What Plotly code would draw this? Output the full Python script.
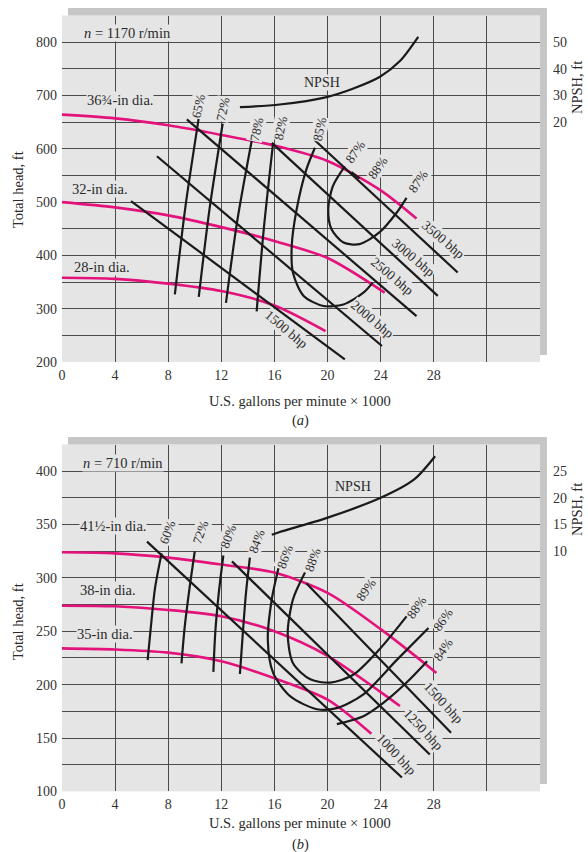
import plotly.graph_objects as go

# ---------------- (a) n = 1170 r/min ----------------
# impeller head curves (gpm x 1000, ft)
a_d1_q = [0, 4, 8, 12, 16, 20, 24, 26.7]
a_d1_h = [664, 657, 644, 626, 606, 577, 522, 469]
a_d2_q = [0, 4, 8, 12, 16, 20, 24.3]
a_d2_h = [500, 490, 475, 453, 427, 395, 330]
a_d3_q = [0, 4, 8, 12, 16, 19.85]
a_d3_h = [358, 356, 347, 333, 306, 258]
a_dia_text = ["36¾-in dia.", "32-in dia.", "28-in dia."]

# brake horsepower lines
a_bhp_names = ["1500 bhp", "2000 bhp", "2500 bhp", "3000 bhp", "3500 bhp"]
a_bhp_q = [[5.2, 21.3], [7.15, 24.1], [9.4, 26.7], [15.8, 28.3], [19.0, 29.8]]
a_bhp_h = [[502, 205], [586, 230], [655, 286], [611, 324], [617, 368]]

# efficiency contours
a_e65_q = [10.3, 9.3, 8.5]
a_e65_h = [658, 492, 327]
a_e72_q = [12.1, 11.1, 10.3]
a_e72_h = [647, 485, 322]
a_e78_q = [14.3, 13.2, 12.35]
a_e78_h = [617, 465, 311]
a_e82_q = [15.9, 15.2, 14.66]
a_e82_h = [611, 450, 295]
a_e85_q = [19.05, 18.4, 17.67, 17.3, 17.4, 18.2, 19.7, 21.2, 22.7, 23.4]
a_e85_h = [602, 561, 486, 417, 367, 324, 305, 308, 330, 349]
a_e87_q = [21.3, 20.4, 20.05, 20.3, 21.2, 22.4, 23.9, 25.2, 25.95]
a_e87_h = [567, 530, 486, 449, 424, 421, 443, 480, 508]
a_e88_q = [21.8, 22.4]
a_e88_h = [556, 544]

# NPSH curve (right axis)
a_npsh_q = [13.4, 16.4, 19.93, 21.9, 23.95, 25.45, 26.83]
a_npsh = [25.6, 26.6, 29.4, 32.5, 37, 42.9, 52]

# ---------------- (b) n = 710 r/min ----------------
b_d1_q = [0, 4, 8, 12, 16, 20, 24, 28.2]
b_d1_h = [324, 323, 319, 312.5, 305, 286, 252, 211]
b_d2_q = [0, 4, 8, 12, 16, 20, 24, 25.45]
b_d2_h = [274, 273.4, 270, 264, 250, 227, 193, 180]
b_d3_q = [0, 4, 8, 12, 16, 20, 23.3]
b_d3_h = [234, 233, 230, 222, 206, 186, 154]
b_dia_text = ["41½-in dia.", "38-in dia.", "35-in dia."]

b_bhp_names = ["1000 bhp", "1250 bhp", "1500 bhp"]
b_bhp_q = [[6.4, 25.6], [12.8, 27.7], [18.4, 29.3]]
b_bhp_h = [[334, 113], [315.5, 134.6], [295, 155]]

b_e60_q = [7.5, 7.0, 6.7, 6.45]
b_e60_h = [323, 290, 255, 223]
b_e72_q = [10.0, 9.6, 9.25, 9.0]
b_e72_h = [325, 290, 255, 220]
b_e80_q = [12.15, 11.8, 11.55, 11.4]
b_e80_h = [321, 285, 250, 212]
b_e84_q = [14.15, 13.85, 13.6, 13.4]
b_e84_h = [319, 285, 245, 210]
b_e86_q = [16.3, 15.8, 15.5, 15.9, 17.2, 19.2, 20.7, 22.7, 25.2, 27.6]
b_e86_h = [309, 280, 242, 211, 189, 177, 178, 191, 223, 253]
b_e88_q = [18.3, 17.4, 17.0, 17.4, 18.7, 20.2, 21.9, 23.9, 25.95]
b_e88_h = [305, 280, 248, 220, 205, 202, 209, 233, 264]
b_e84r_q = [20.7, 22.7, 24.2, 25.95, 27.5]
b_e84r_h = [163, 170.5, 183, 202, 222]

b_npsh_q = [15.8, 16.4, 19.9, 24, 26.5, 28.1]
b_npsh = [13.1, 13.6, 16.2, 20, 23.4, 27.8]

# tick labels
x_ticks = [0, 4, 8, 12, 16, 20, 24, 28]
a_head_ticks = [200, 300, 400, 500, 600, 700, 800]
a_npsh_ticks = [20, 30, 40, 50]
b_head_ticks = [100, 150, 200, 250, 300, 350, 400]
b_npsh_ticks = [10, 15, 20, 25]

# ---------------- styling ----------------
W, H = 588, 852
FONT = "Liberation Serif"
BG = "#e5e5e5"
SHADOW = "#c6c6c6"
GRID = "#4a4a4a"
PINK = "#e4137c"
INK = "#1a1a1a"
TXT = "#2a2a2a"

fig = go.Figure()


def line(q, h, xa, ya, color=INK, width=2.2):
    fig.add_trace(go.Scatter(x=q, y=h, mode="lines", xaxis=xa, yaxis=ya,
                             line=dict(color=color, width=width, shape="spline", smoothing=0.8),
                             hoverinfo="skip", showlegend=False))


# (a)
for q, h in [(a_d1_q, a_d1_h), (a_d2_q, a_d2_h), (a_d3_q, a_d3_h)]:
    line(q, h, "x", "y", PINK, 2.6)
for q, h in zip(a_bhp_q, a_bhp_h):
    line(q, h, "x", "y")
for q, h in [(a_e65_q, a_e65_h), (a_e72_q, a_e72_h), (a_e78_q, a_e78_h), (a_e82_q, a_e82_h),
             (a_e85_q, a_e85_h), (a_e87_q, a_e87_h), (a_e88_q, a_e88_h)]:
    line(q, h, "x", "y")
line(a_npsh_q, a_npsh, "x", "y2")

# (b)
for q, h in [(b_d1_q, b_d1_h), (b_d2_q, b_d2_h), (b_d3_q, b_d3_h)]:
    line(q, h, "x2", "y3", PINK, 2.6)
for q, h in zip(b_bhp_q, b_bhp_h):
    line(q, h, "x2", "y3")
for q, h in [(b_e60_q, b_e60_h), (b_e72_q, b_e72_h), (b_e80_q, b_e80_h), (b_e84_q, b_e84_h),
             (b_e86_q, b_e86_h), (b_e88_q, b_e88_h), (b_e84r_q, b_e84r_h)]:
    line(q, h, "x2", "y3")
line(b_npsh_q, b_npsh, "x2", "y4")

# ---------------- axes ----------------
xdom = [62 / W, 540 / W]
a_dom = [1 - 362 / H, 1 - 15.5 / H]
b_dom = [1 - 791.4 / H, 1 - 444.5 / H]
tickfont = dict(family=FONT, size=14, color="#333")


def xaxis(anchor):
    return dict(domain=xdom, range=[0, 36], anchor=anchor, tickvals=x_ticks, automargin=False,
                showgrid=False, zeroline=False, showline=False, ticks="",
                tickfont=tickfont, ticklabelstandoff=3,
                minor=dict(tickvals=[4, 8, 12, 16, 20, 24, 28, 32], showgrid=True,
                           gridcolor=GRID, gridwidth=1.1))


def head_axis(dom, rng, ticks, anchor, minor_vals):
    return dict(domain=dom, range=rng, anchor=anchor, tickvals=ticks, automargin=False,
                showgrid=False, zeroline=False, ticks="", tickfont=tickfont, ticklabelstandoff=4,
                minor=dict(tickvals=minor_vals, showgrid=True, gridcolor=GRID, gridwidth=1.1))


def npsh_axis(over, anchor, rng, ticks):
    return dict(overlaying=over, side="right", anchor=anchor, range=rng, tickvals=ticks,
                automargin=False, showgrid=False, zeroline=False, ticks="",
                tickfont=tickfont, ticklabelstandoff=12)


fig.update_layout(
    template="none",
    xaxis=xaxis("y"),
    xaxis2=xaxis("y3"),
    yaxis=head_axis(a_dom, [200, 850], a_head_ticks, "x", list(range(250, 801, 50))),
    yaxis2=npsh_axis("y", "x", [-70, 60], a_npsh_ticks),
    yaxis3=head_axis(b_dom, [100, 425], b_head_ticks, "x2", list(range(125, 401, 25))),
    yaxis4=npsh_axis("y3", "x2", [-35, 30], b_npsh_ticks),
    width=W, height=H, margin=dict(l=0, r=0, t=0, b=0, pad=0), autosize=False,
    paper_bgcolor="white", plot_bgcolor=BG, showlegend=False,
    font=dict(family=FONT, color="#333"),
)

# drop-shadow strips along the top and right of each panel
shapes = []
for top, bottom in [(8, 355), (437, 784)]:
    shapes.append(dict(type="rect", xref="paper", yref="paper", layer="below",
                       x0=68 / W, x1=547 / W, y0=1 - (top + 7.5) / H, y1=1 - top / H,
                       fillcolor=SHADOW, line=dict(width=0)))
    shapes.append(dict(type="rect", xref="paper", yref="paper", layer="below",
                       x0=540 / W, x1=547 / W, y0=1 - bottom / H, y1=1 - top / H,
                       fillcolor=SHADOW, line=dict(width=0)))
fig.update_layout(shapes=shapes)

ann = []


def label(text, x, y, xr, yr, angle=0, size=12.5, bg=BG):
    ann.append(dict(text=text, x=x, y=y, xref=xr, yref=yr, showarrow=False, textangle=angle,
                    xanchor="center", yanchor="middle",
                    font=dict(family=FONT, size=size, color=TXT), bgcolor=bg, borderpad=0))


# (a) labels
label("<i>n</i> = 1170 r/min", 4.97, 818, "x", "y", size=14.5)
label(a_dia_text[0], 4.37, 691, "x", "y", size=14.5)
label(a_dia_text[1], 2.86, 524, "x", "y", size=14.5)
label(a_dia_text[2], 3.0, 379, "x", "y", size=14.5)
label("NPSH", 19.56, 724, "x", "y", size=14)
for t, x, y in [("65%", 10.24, 680), ("72%", 12.1, 674), ("78%", 14.66, 636),
                ("82%", 16.5, 639), ("85%", 19.4, 636)]:
    label(t, x, y, "x", "y", angle=-78, size=13)
for t, x, y in [("87%", 22.1, 595), ("88%", 23.8, 564), ("87%", 26.8, 539)]:
    label(t, x, y, "x", "y", angle=-55, size=13)
for t, x, y in zip(a_bhp_names, [16.9, 23.4, 24.9, 26.45, 28.7], [261, 280, 361, 396, 430]):
    label(t, x, y, "x", "y", angle=40, size=13.5)

# (b) labels
label("<i>n</i> = 710 r/min", 4.6, 408, "x2", "y3", size=14.5)
label(b_dia_text[0], 3.84, 349, "x2", "y3", size=14.5)
label(b_dia_text[1], 3.46, 289, "x2", "y3", size=14.5)
label(b_dia_text[2], 3.24, 247, "x2", "y3", size=14.5)
label("NPSH", 21.9, 386, "x2", "y3", size=14)
for t, x, y in [("60%", 7.9, 343), ("72%", 10.4, 343), ("80%", 12.5, 339), ("84%", 14.66, 334),
                ("86%", 16.8, 320), ("88%", 18.9, 317)]:
    label(t, x, y, "x2", "y3", angle=-70, size=13)
for t, x, y in [("89%", 22.9, 289), ("88%", 26.7, 272), ("86%", 28.7, 261), ("84%", 28.7, 233)]:
    label(t, x, y, "x2", "y3", angle=-55, size=13)
for t, x, y in zip(b_bhp_names, [25.2, 27.2, 28.7], [134.6, 158, 183]):
    label(t, x, y, "x2", "y3", angle=47, size=13.5)

# axis titles (positioned in page pixels)
for txt, px, py, ang in [("Total head, ft", 18, 190, -90), ("NPSH, ft", 577, 88, -90),
                         ("Total head, ft", 18, 622, -90), ("NPSH, ft", 577, 510, -90),
                         ("U.S. gallons per minute × 1000", 300, 401, 0), ("(<i>a</i>)", 300, 420, 0),
                         ("U.S. gallons per minute × 1000", 300, 823, 0), ("(<i>b</i>)", 300, 844, 0)]:
    ann.append(dict(text=txt, x=px / W, y=1 - py / H, xref="paper", yref="paper", showarrow=False,
                    textangle=ang, xanchor="center", yanchor="middle",
                    font=dict(family=FONT, size=14.5, color=TXT)))

fig.update_layout(annotations=ann)
fig.write_html("out.html")
